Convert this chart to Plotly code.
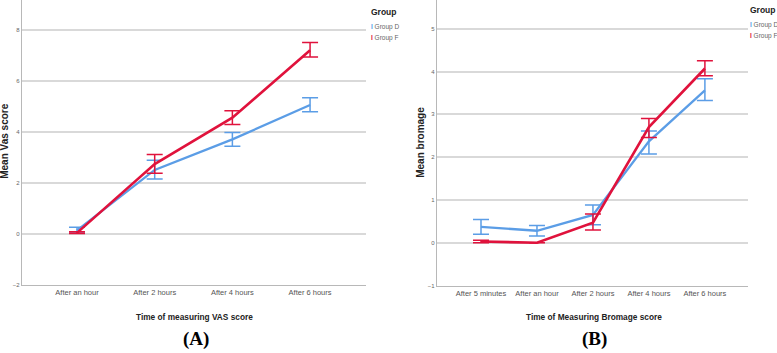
import plotly.graph_objects as go

# ---- Data (A) VAS score ----
cats_a = ["After an hour", "After 2 hours", "After 4 hours", "After 6 hours"]
vas_d = [0.13, 2.5, 3.7, 5.05]
vas_d_up = [0.12, 0.38, 0.27, 0.28]
vas_d_dn = [0.11, 0.36, 0.27, 0.27]
vas_f = [0.03, 2.73, 4.55, 7.2]
vas_f_up = [0.04, 0.38, 0.27, 0.3]
vas_f_dn = [0.03, 0.36, 0.27, 0.27]

# ---- Data (B) Bromage score ----
cats_b = ["After 5 minutes", "After an hour", "After 2 hours", "After 4 hours", "After 6 hours"]
bro_d = [0.37, 0.28, 0.65, 2.37, 3.56]
bro_d_up = [0.17, 0.12, 0.23, 0.24, 0.27]
bro_d_dn = [0.17, 0.12, 0.23, 0.3, 0.24]
bro_f = [0.03, 0.0, 0.47, 2.7, 4.07]
bro_f_up = [0.03, 0.0, 0.2, 0.2, 0.18]
bro_f_dn = [0.03, 0.0, 0.17, 0.24, 0.17]

yticks_a = [-2, 0, 2, 4, 6, 8]
yticks_b = [-1, 0, 1, 2, 3, 4, 5]

BLUE = "#5b9de6"
RED = "#e0123c"
W, H = 777, 353
SANS = "Liberation Sans, Arial, sans-serif"

fig = go.Figure()

def add(x, y, up, dn, color, xa, ya, lw):
    fig.add_trace(go.Scatter(
        x=x, y=y, mode="lines", xaxis=xa, yaxis=ya,
        line=dict(color=color, width=lw),
        error_y=dict(type="data", symmetric=False, array=up, arrayminus=dn,
                     color=color, thickness=1.5, width=8),
        showlegend=False, hoverinfo="skip"))

add(cats_a, vas_d, vas_d_up, vas_d_dn, BLUE, "x", "y", 2.3)
add(cats_a, vas_f, vas_f_up, vas_f_dn, RED, "x", "y", 2.6)
add(cats_b, bro_d, bro_d_up, bro_d_dn, BLUE, "x2", "y2", 2.3)
add(cats_b, bro_f, bro_f_up, bro_f_dn, RED, "x2", "y2", 2.6)

def px(x):
    return x / W

def py(y):
    return 1 - y / H

axis_common = dict(showline=True, linecolor="#b8b8b8", linewidth=1.2,
                   ticks="", zeroline=False, mirror=False)

fig.update_layout(
    width=W, height=H, margin=dict(l=0, r=0, t=0, b=0),
    paper_bgcolor="white", plot_bgcolor="white",
    xaxis=dict(domain=[px(22), px(366)], type="category", categoryorder="array",
               categoryarray=cats_a, range=[-0.708, 3.72], showgrid=False,
               tickfont=dict(family=SANS, size=7.5, color="#555"), anchor="y", **axis_common),
    yaxis=dict(domain=[py(287), 1.0], range=[-2, 9.17], tickvals=yticks_a,
               showgrid=True, gridcolor="#d9d9d9", gridwidth=1.5,
               tickfont=dict(family=SANS, size=6, color="#666"), anchor="x", **axis_common),
    xaxis2=dict(domain=[px(437), px(748)], type="category", categoryorder="array",
                categoryarray=cats_b, range=[-0.786, 4.77], showgrid=False,
                tickfont=dict(family=SANS, size=7.5, color="#555"), anchor="y2", **axis_common),
    yaxis2=dict(domain=[py(288), 1.0], range=[-1, 5.67], tickvals=yticks_b,
                showgrid=True, gridcolor="#d9d9d9", gridwidth=1.5,
                tickfont=dict(family=SANS, size=6, color="#666"), anchor="x2", **axis_common),
)

ann = []
def text(x, y, s, size, family=SANS, color="#222", angle=0, xanchor="center"):
    ann.append(dict(x=px(x), y=py(y), xref="paper", yref="paper", text=s, showarrow=False,
                    font=dict(family=family, size=size, color=color), textangle=angle,
                    xanchor=xanchor, yanchor="middle"))

# axis titles
text(194, 320, "<b>Time of measuring VAS score</b>", 8.3)
text(5, 143, "<b>Mean Vas score</b>", 10, angle=-90)
text(594, 320, "<b>Time of Measuring Bromage score</b>", 8.3)
text(421, 143, "<b>Mean bromage</b>", 10, angle=-90)
# panel labels
text(196, 342, "<b>(A)</b>", 19, family="Liberation Serif, Times New Roman, serif", color="#000")
text(594, 342, "<b>(B)</b>", 19, family="Liberation Serif, Times New Roman, serif", color="#000")
# legends
for lx, ly in [(369, 12), (748, 10)]:
    text(lx, ly, "<b>Group</b>", 8.5, xanchor="left")
    text(lx, ly + 15, f"<span style='color:{BLUE}'><b>I</b></span> Group D", 6.5, color="#666", xanchor="left")
    text(lx, ly + 26, f"<span style='color:{RED}'><b>I</b></span> Group F", 6.5, color="#666", xanchor="left")

fig.update_layout(annotations=ann)
fig.write_html("out.html")
